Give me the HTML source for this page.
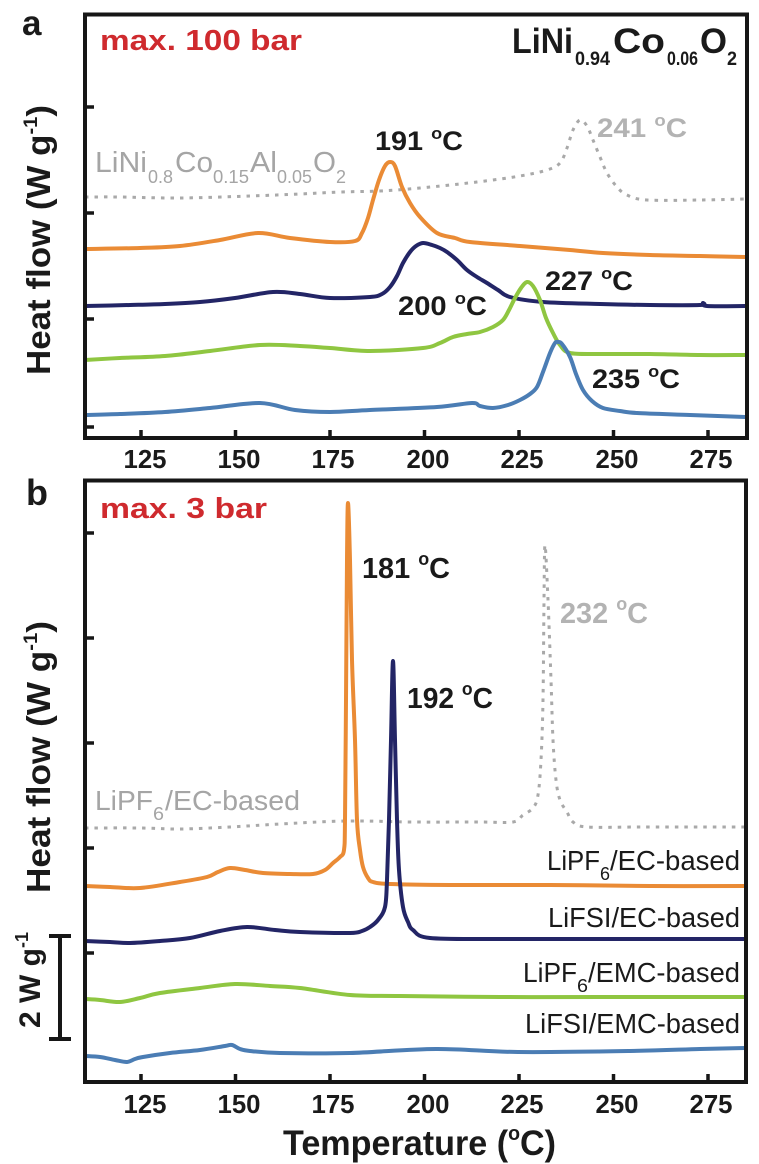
<!DOCTYPE html>
<html><head><meta charset="utf-8"><style>
html,body{margin:0;padding:0;background:#fff;}
svg{display:block;}
text{font-family:"Liberation Sans",Arial,sans-serif;}
</style></head><body>
<svg id="chart" width="759" height="1164" viewBox="0 0 759 1164" xmlns="http://www.w3.org/2000/svg">
<rect width="759" height="1164" fill="#fff"/>

<!-- ============ PANEL A ============ -->
<g fill="none" stroke-linejoin="round" stroke-linecap="round">
<polyline class="sm" stroke="#a9a9a9" stroke-width="3" stroke-dasharray="3.5 6" stroke-linecap="butt" points="85,197 120,197 180,198 250,196 300,194 340,192 380,191 420,188 477,182 520,176 547,170 560,163 567,148 573,130 580,120 587,126 593,140 600,157 607,173 617,187 627,195 647,200 700,200 745,199"/>
<polyline class="sm" stroke="#ea8b35" stroke-width="4" points="85,249 140,248 180,246 220,240 258,233 290,238 330,242 355,241 362,233 368,218 373,200 379,180 385,166 390,162 395,166 402,187 410,203 420,217 437,233 455,238 470,242 520,246 570,250 603,253 650,255 700,256 745,257"/>
<polyline class="sm" stroke="#232566" stroke-width="4" points="85,306 130,305 165,304 200,302 235,298 273,292 300,294 330,298 370,297 382,294 390,287 397,276 403,263 410,252 416,246 423,243 432,245 440,248 447,252 457,260 467,270 477,277 487,283 498,290 510,297 543,302 600,304 650,305 700,305 703,303 707,306 745,306"/>
<polyline class="sm" stroke="#8fc641" stroke-width="4" points="85,360 120,358 165,356 210,351 260,345 300,346 330,348 370,351 423,348 440,343 453,337 467,334 480,332 493,327 503,320 509,310 515,298 521,288 527,282 533,286 540,300 546,318 553,333 560,345 570,353 600,354 650,354 700,355 745,355"/>
<polyline class="sm" stroke="#4b7db4" stroke-width="4" points="85,415 120,414 165,412 210,408 260,403 295,410 330,412 370,410 437,407 472,403 480,406 493,408 508,405 520,400 530,394 537,387 543,372 550,353 555,343 558,342 562,344 570,357 576,374 583,390 592,401 603,408 620,411 637,413 690,415 745,417"/>
</g>

<!-- frame a -->
<rect x="85" y="14.5" width="662" height="423.5" fill="none" stroke="#161616" stroke-width="4"/>
<g stroke="#161616" stroke-width="3.5">
<line x1="85" y1="107" x2="94" y2="107"/>
<line x1="85" y1="213" x2="94" y2="213"/>
<line x1="85" y1="319" x2="94" y2="319"/>
<line x1="85" y1="427" x2="94" y2="427"/>
<line x1="141" y1="438" x2="141" y2="430"/>
<line x1="235.5" y1="438" x2="235.5" y2="430"/>
<line x1="330" y1="438" x2="330" y2="430"/>
<line x1="424.5" y1="438" x2="424.5" y2="430"/>
<line x1="519" y1="438" x2="519" y2="430"/>
<line x1="613.5" y1="438" x2="613.5" y2="430"/>
<line x1="708" y1="438" x2="708" y2="430"/>
</g>
<g font-size="26" font-weight="bold" fill="#1a1a1a" text-anchor="middle">
<text x="145" y="468" textLength="43" lengthAdjust="spacingAndGlyphs">125</text>
<text x="239" y="468" textLength="43" lengthAdjust="spacingAndGlyphs">150</text>
<text x="333" y="468" textLength="43" lengthAdjust="spacingAndGlyphs">175</text>
<text x="428" y="468" textLength="43" lengthAdjust="spacingAndGlyphs">200</text>
<text x="522" y="468" textLength="43" lengthAdjust="spacingAndGlyphs">225</text>
<text x="617" y="468" textLength="43" lengthAdjust="spacingAndGlyphs">250</text>
<text x="711" y="468" textLength="43" lengthAdjust="spacingAndGlyphs">275</text>
</g>

<text x="22" y="35" font-size="35" font-weight="bold" fill="#1a1a1a">a</text>
<text x="100" y="50" font-size="29" font-weight="bold" fill="#cf2a2e" textLength="202" lengthAdjust="spacingAndGlyphs">max. 100 bar</text>

<!-- LiNi0.94Co0.06O2 -->
<g font-weight="bold" fill="#1a1a1a">
<text x="512" y="53" font-size="35" textLength="61" lengthAdjust="spacingAndGlyphs">LiNi</text>
<text x="575" y="65" font-size="19" textLength="35" lengthAdjust="spacingAndGlyphs">0.94</text>
<text x="613" y="53" font-size="35" textLength="52" lengthAdjust="spacingAndGlyphs">Co</text>
<text x="667" y="65" font-size="19" textLength="31" lengthAdjust="spacingAndGlyphs">0.06</text>
<text x="700" y="53" font-size="35" textLength="27" lengthAdjust="spacingAndGlyphs">O</text>
<text x="727" y="65" font-size="19" textLength="10" lengthAdjust="spacingAndGlyphs">2</text>
</g>

<!-- LiNi0.8Co0.15Al0.05O2 gray -->
<g fill="#a5a5a5">
<text x="95" y="172" font-size="29" textLength="52" lengthAdjust="spacingAndGlyphs">LiNi</text>
<text x="148" y="183" font-size="18" textLength="25" lengthAdjust="spacingAndGlyphs">0.8</text>
<text x="175" y="172" font-size="29" textLength="38" lengthAdjust="spacingAndGlyphs">Co</text>
<text x="213" y="183" font-size="18" textLength="36" lengthAdjust="spacingAndGlyphs">0.15</text>
<text x="250" y="172" font-size="29" textLength="27" lengthAdjust="spacingAndGlyphs">Al</text>
<text x="277" y="183" font-size="18" textLength="35" lengthAdjust="spacingAndGlyphs">0.05</text>
<text x="313" y="172" font-size="29" textLength="23" lengthAdjust="spacingAndGlyphs">O</text>
<text x="336" y="183" font-size="18" textLength="10" lengthAdjust="spacingAndGlyphs">2</text>
</g>

<!-- annotations a -->
<g font-weight="bold" font-size="27">
<text x="375" y="150" fill="#1a1a1a" textLength="88" lengthAdjust="spacingAndGlyphs">191 <tspan font-size="17" dy="-11">o</tspan><tspan dy="11">C</tspan></text>
<text x="597" y="137" fill="#b3b3b3" textLength="90" lengthAdjust="spacingAndGlyphs">241 <tspan font-size="17" dy="-11">o</tspan><tspan dy="11">C</tspan></text>
<text x="398" y="315" fill="#1a1a1a" textLength="89" lengthAdjust="spacingAndGlyphs">200 <tspan font-size="17" dy="-11">o</tspan><tspan dy="11">C</tspan></text>
<text x="545" y="290" fill="#1a1a1a" textLength="88" lengthAdjust="spacingAndGlyphs">227 <tspan font-size="17" dy="-11">o</tspan><tspan dy="11">C</tspan></text>
<text x="592" y="388" fill="#1a1a1a" textLength="88" lengthAdjust="spacingAndGlyphs">235 <tspan font-size="17" dy="-11">o</tspan><tspan dy="11">C</tspan></text>
</g>

<!-- y title a -->
<text transform="translate(50,240) rotate(-90)" text-anchor="middle" font-size="33" font-weight="bold" fill="#1a1a1a" textLength="270" lengthAdjust="spacingAndGlyphs">Heat flow (W g<tspan font-size="19" dy="-13">-1</tspan><tspan dy="13">)</tspan></text>

<!-- ============ PANEL B ============ -->
<g fill="none" stroke-linejoin="round" stroke-linecap="round">
<polyline class="sm" stroke="#a9a9a9" stroke-width="3" stroke-dasharray="3.5 6" stroke-linecap="butt" points="85,828 140,828 180,829 230,827 280,824 347,821 413,822 480,822 513,822 523,815 533,808 538,795 541,760 543,700 544,600 545,545 548,600 551,680 553,740 556,780 560,800 567,812 573,822 587,827 640,827 700,827 745,827"/>
<polyline class="sm" stroke="#ea8b35" stroke-width="4" points="85,886 110,887 140,888 180,882 207,877 218,872 230,868 245,870 263,873 290,874 313,874 325,870 333,863 340,857 344,850 345,820 346,700 347,560 348,503 350,560 352,660 355,740 357,820 360,850 363,867 368,878 373,882 390,884 450,885 550,885 650,886 745,886"/>
<polyline class="sm" stroke="#232566" stroke-width="4" points="85,941 110,942 130,943 160,941 190,938 220,931 247,927 275,930 300,932 350,933 362,931 370,927 378,920 385,907 387,880 389,820 391,740 393,661 395,740 397,820 399,870 403,907 408,922 413,930 430,938 500,939 600,939 745,939"/>
<polyline class="sm" stroke="#8fc641" stroke-width="4" points="85,999 100,1000 120,1002 140,998 160,993 200,988 235,984 270,986 300,988 350,995 400,996 500,997 600,997 745,997"/>
<polyline class="sm" stroke="#4b7db4" stroke-width="4" points="85,1056 100,1057 115,1060 127,1062 135,1059 143,1057 170,1053 200,1050 225,1046 232,1045 240,1049 250,1051 280,1053 350,1053 436,1049 518,1052 630,1051 700,1049 745,1048"/>
</g>

<rect x="85" y="480.5" width="661" height="601.5" fill="none" stroke="#161616" stroke-width="4"/>
<g stroke="#161616" stroke-width="3.5">
<line x1="85" y1="533" x2="94" y2="533"/>
<line x1="85" y1="638" x2="94" y2="638"/>
<line x1="85" y1="743" x2="94" y2="743"/>
<line x1="85" y1="848" x2="94" y2="848"/>
<line x1="85" y1="953" x2="94" y2="953"/>
<line x1="141" y1="1082" x2="141" y2="1074"/>
<line x1="235.5" y1="1082" x2="235.5" y2="1074"/>
<line x1="330" y1="1082" x2="330" y2="1074"/>
<line x1="424.5" y1="1082" x2="424.5" y2="1074"/>
<line x1="519" y1="1082" x2="519" y2="1074"/>
<line x1="613.5" y1="1082" x2="613.5" y2="1074"/>
<line x1="708" y1="1082" x2="708" y2="1074"/>
</g>
<g font-size="26" font-weight="bold" fill="#1a1a1a" text-anchor="middle">
<text x="145" y="1113" textLength="43" lengthAdjust="spacingAndGlyphs">125</text>
<text x="239" y="1113" textLength="43" lengthAdjust="spacingAndGlyphs">150</text>
<text x="333" y="1113" textLength="43" lengthAdjust="spacingAndGlyphs">175</text>
<text x="428" y="1113" textLength="43" lengthAdjust="spacingAndGlyphs">200</text>
<text x="522" y="1113" textLength="43" lengthAdjust="spacingAndGlyphs">225</text>
<text x="617" y="1113" textLength="43" lengthAdjust="spacingAndGlyphs">250</text>
<text x="711" y="1113" textLength="43" lengthAdjust="spacingAndGlyphs">275</text>
</g>
<text x="283" y="1155" font-size="35" font-weight="bold" fill="#1a1a1a" textLength="273" lengthAdjust="spacingAndGlyphs">Temperature (<tspan font-size="20" dy="-15">o</tspan><tspan dy="15">C)</tspan></text>

<text x="26" y="505" font-size="36" font-weight="bold" fill="#1a1a1a">b</text>
<text x="100" y="518" font-size="29" font-weight="bold" fill="#cf2a2e" textLength="167" lengthAdjust="spacingAndGlyphs">max. 3 bar</text>

<!-- annotations b -->
<g font-weight="bold" font-size="29">
<text x="362" y="578" fill="#1a1a1a" textLength="88" lengthAdjust="spacingAndGlyphs">181 <tspan font-size="18" dy="-13">o</tspan><tspan dy="13">C</tspan></text>
<text x="407" y="708" fill="#1a1a1a" textLength="86" lengthAdjust="spacingAndGlyphs">192 <tspan font-size="18" dy="-13">o</tspan><tspan dy="13">C</tspan></text>
<text x="560" y="623" fill="#b3b3b3" textLength="88" lengthAdjust="spacingAndGlyphs">232 <tspan font-size="18" dy="-13">o</tspan><tspan dy="13">C</tspan></text>
</g>

<!-- gray dotted label -->
<g fill="#a5a5a5" font-size="28">
<text x="95" y="810" textLength="58" lengthAdjust="spacingAndGlyphs">LiPF</text>
<text x="153" y="820" font-size="18" textLength="11" lengthAdjust="spacingAndGlyphs">6</text>
<text x="165" y="810" textLength="135" lengthAdjust="spacingAndGlyphs">/EC-based</text>
</g>

<!-- right labels -->
<g fill="#1a1a1a" font-size="28">
<text x="547" y="870" textLength="53" lengthAdjust="spacingAndGlyphs">LiPF</text>
<text x="600" y="880" font-size="18" textLength="10" lengthAdjust="spacingAndGlyphs">6</text>
<text x="610" y="870" textLength="130" lengthAdjust="spacingAndGlyphs">/EC-based</text>
<text x="548" y="927" textLength="192" lengthAdjust="spacingAndGlyphs">LiFSI/EC-based</text>
<text x="523" y="982" textLength="54" lengthAdjust="spacingAndGlyphs">LiPF</text>
<text x="577" y="992" font-size="18" textLength="11" lengthAdjust="spacingAndGlyphs">6</text>
<text x="588" y="982" textLength="152" lengthAdjust="spacingAndGlyphs">/EMC-based</text>
<text x="525" y="1033" textLength="215" lengthAdjust="spacingAndGlyphs">LiFSI/EMC-based</text>
</g>

<!-- y title b -->
<text transform="translate(50,757) rotate(-90)" text-anchor="middle" font-size="33" font-weight="bold" fill="#1a1a1a" textLength="272" lengthAdjust="spacingAndGlyphs">Heat flow (W g<tspan font-size="19" dy="-13">-1</tspan><tspan dy="13">)</tspan></text>

<!-- scale bar -->
<g stroke="#161616" stroke-width="4">
<line x1="60" y1="935" x2="60" y2="1040"/>
<line x1="49" y1="936" x2="71" y2="936"/>
<line x1="49" y1="1039" x2="71" y2="1039"/>
</g>
<text transform="translate(40,980) rotate(-90)" text-anchor="middle" font-size="30" font-weight="bold" fill="#1a1a1a" textLength="96" lengthAdjust="spacingAndGlyphs">2 W g<tspan font-size="18" dy="-12">-1</tspan></text>

</svg>
<script>
(function(){
  var ns="http://www.w3.org/2000/svg";
  var pls=document.querySelectorAll("polyline.sm");
  for(var k=0;k<pls.length;k++){
    var pl=pls[k];
    var raw=pl.getAttribute("points").trim().split(/\s+/).map(function(s){var a=s.split(",");return [parseFloat(a[0]),parseFloat(a[1])];});
    var n=raw.length; if(n<3) continue;
    var d="M"+raw[0][0]+","+raw[0][1];
    var t=1/6;
    for(var i=0;i<n-1;i++){
      var p0=raw[i>0?i-1:i],p1=raw[i],p2=raw[i+1],p3=raw[i+2<n?i+2:i+1];
      var c1x=p1[0]+(p2[0]-p0[0])*t,c1y=p1[1]+(p2[1]-p0[1])*t;
      var c2x=p2[0]-(p3[0]-p1[0])*t,c2y=p2[1]-(p3[1]-p1[1])*t;
      d+=" C"+c1x.toFixed(2)+","+c1y.toFixed(2)+" "+c2x.toFixed(2)+","+c2y.toFixed(2)+" "+p2[0]+","+p2[1];
    }
    var p=document.createElementNS(ns,"path");
    var attrs=["stroke","stroke-width","stroke-dasharray","stroke-linecap"];
    for(var j=0;j<attrs.length;j++){var v=pl.getAttribute(attrs[j]); if(v) p.setAttribute(attrs[j],v);}
    p.setAttribute("d",d);
    p.setAttribute("fill","none");
    pl.parentNode.replaceChild(p,pl);
  }
})();
</script>
</body></html>
